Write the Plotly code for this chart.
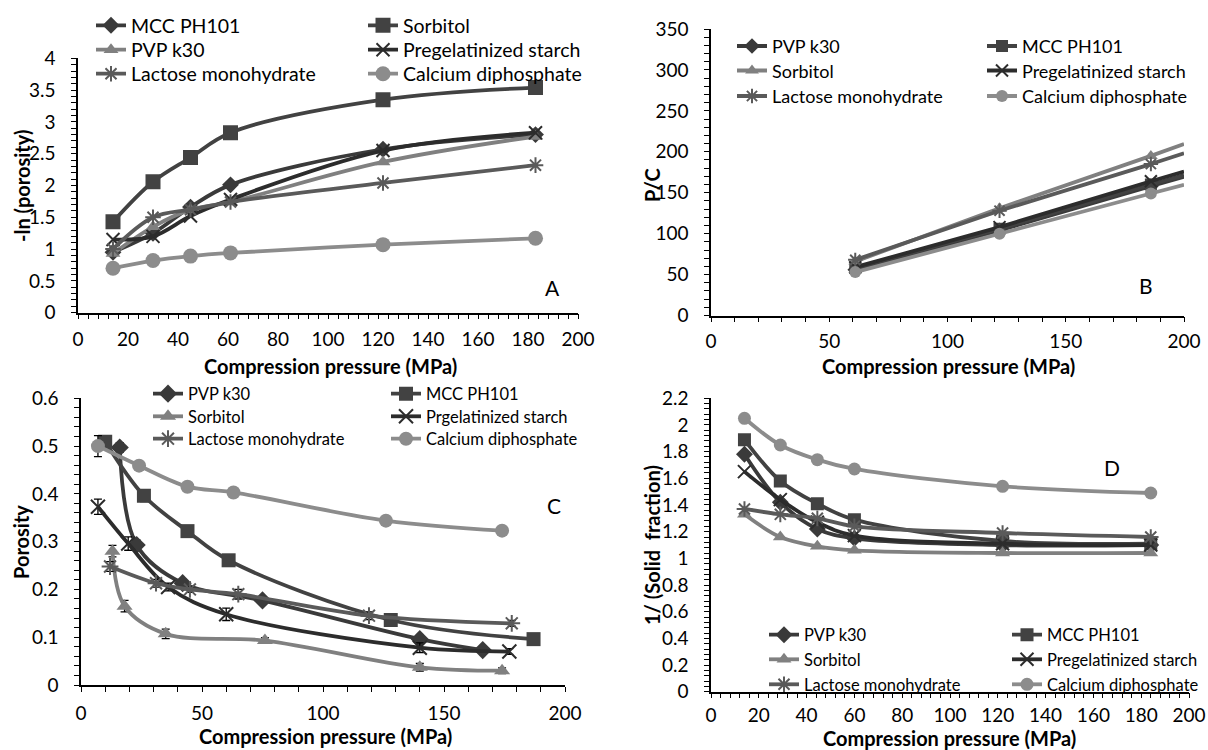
import numpy as np
import plotly.graph_objects as go

W, H = 1208, 750
FONT = "Lato"

# ---------------- data ----------------
# Panel A : -ln(porosity) vs compression pressure
A_X = [14, 30, 45, 61, 122, 183]
A_NAMES = ["MCC PH101", "Sorbitol", "PVP k30", "Pregelatinized starch",
           "Lactose monohydrate", "Calcium diphosphate"]
A_S1 = [0.95, 1.25, 1.66, 2.01, 2.57, 2.80]   # MCC PH101
A_S2 = [1.43, 2.06, 2.44, 2.83, 3.35, 3.54]   # Sorbitol
A_S3 = [0.93, 1.35, 1.62, 1.74, 2.37, 2.77]   # PVP k30
A_S4 = [1.15, 1.20, 1.52, 1.78, 2.55, 2.83]   # Pregelatinized starch
A_S5 = [1.00, 1.50, 1.62, 1.74, 2.04, 2.32]   # Lactose monohydrate
A_S6 = [0.70, 0.82, 0.89, 0.94, 1.07, 1.17]   # Calcium diphosphate

# Panel B : P/C vs compression pressure
B_X = [61, 122, 186]
B_NAMES = ["PVP k30", "MCC PH101", "Sorbitol", "Pregelatinized starch",
           "Lactose monohydrate", "Calcium diphosphate"]
B_S1 = [56, 104, 158]
B_S2 = [58, 106, 160]
B_S3 = [66, 131, 195]
B_S4 = [59, 108, 164]
B_S5 = [68, 128, 185]
B_S6 = [53, 100, 149]

# Panel C : porosity vs compression pressure
C_NAMES = ["PVP k30", "MCC PH101", "Sorbitol", "Prgelatinized starch",
           "Lactose monohydrate", "Calcium diphosphate"]
C_X1 = [16, 23, 42, 75, 140, 166]
C_S1 = [0.497, 0.293, 0.213, 0.177, 0.096, 0.073]
C_E1 = [0.010, 0.010, 0.008, 0.008, 0.008, 0.006]
C_X2 = [10, 26, 44, 61, 128, 187]
C_S2 = [0.509, 0.396, 0.322, 0.261, 0.136, 0.096]
C_E2 = [0.010, 0.012, 0.010, 0.008, 0.008, 0.006]
C_X3 = [13, 18, 35, 76, 140, 174]
C_S3 = [0.280, 0.165, 0.107, 0.093, 0.037, 0.030]
C_E3 = [0.012, 0.012, 0.010, 0.006, 0.008, 0.006]
C_X4 = [7, 19.5, 36, 60, 140, 177]
C_S4 = [0.373, 0.296, 0.205, 0.148, 0.078, 0.070]
C_E4 = [0.016, 0.014, 0.008, 0.013, 0.010, 0.006]
C_X5 = [12, 31, 45, 65, 119, 178]
C_S5 = [0.248, 0.213, 0.200, 0.190, 0.145, 0.129]
C_E5 = [0.010, 0.008, 0.006, 0.010, 0.008, 0.006]
C_X6 = [7, 24, 44, 63, 126, 174]
C_S6 = [0.500, 0.459, 0.415, 0.403, 0.344, 0.323]
C_E6 = [0.022, 0.006, 0.006, 0.006, 0.006, 0.008]

# Panel D : 1/(solid fraction) vs compression pressure
D_X = [14, 29, 44.5, 60, 122, 184]
D_NAMES = B_NAMES
D_S1 = [1.78, 1.42, 1.22, 1.15, 1.10, 1.10]
D_S2 = [1.89, 1.58, 1.41, 1.29, 1.13, 1.11]
D_S3 = [1.33, 1.16, 1.09, 1.06, 1.04, 1.04]
D_S4 = [1.65, 1.44, 1.27, 1.17, 1.11, 1.10]
D_S5 = [1.37, 1.33, 1.30, 1.24, 1.19, 1.16]
D_S6 = [2.05, 1.85, 1.74, 1.67, 1.54, 1.49]

# ---------------- styles ----------------
SYMBOLS = ["diamond", "square", "triangle-up", "x-thin", "asterisk", "circle"]
COLORS = ["#3a3a3a", "#424242", "#808080", "#2c2c2c", "#5a5a5a", "#8c8c8c"]
LW = 3.8


def px_x(v):
    return v / W


def px_y(v):
    return 1 - v / H


def legend_id(panel, slot):
    k = 6 * panel + slot + 1
    return "legend" if k == 1 else f"legend{k}"


def marker(i, size):
    sym = SYMBOLS[i]
    if sym in ("x-thin", "asterisk"):
        return dict(symbol=sym, size=size, color=COLORS[i],
                    line=dict(width=2, color=COLORS[i]))
    return dict(symbol=sym, size=size, color=COLORS[i], line=dict(width=0))


fig = go.Figure()


def add_series(panel, i, name, xs, ys, ax, msize, shape, err=None):
    xa = "x" if ax == 1 else f"x{ax}"
    ya = "y" if ax == 1 else f"y{ax}"
    tr = dict(x=xs, y=ys, name=name, mode="lines+markers",
              line=dict(color=COLORS[i], width=LW, shape=shape, smoothing=1.0),
              marker=marker(i, msize), xaxis=xa, yaxis=ya,
              legend=legend_id(panel, i))
    if err is not None:
        tr["error_y"] = dict(type="data", array=err, color="black",
                             thickness=1.3, width=4)
    fig.add_trace(go.Scatter(**tr))


A_ALL = [A_S1, A_S2, A_S3, A_S4, A_S5, A_S6]
A_ERR = [None, [0, 0, 0, 0, 0, 0.05], None, None, None, None]
for i, ys in enumerate(A_ALL):
    add_series(0, i, A_NAMES[i], A_X, ys, 1, 15 if i in (1, 5) else 13, "spline", A_ERR[i])

B_ALL = [B_S1, B_S2, B_S3, B_S4, B_S5, B_S6]
for i, ys in enumerate(B_ALL):
    add_series(1, i, B_NAMES[i], B_X, ys, 2, 12, "linear")
    slope, icpt = np.polyfit(B_X, ys, 1)
    fig.add_trace(go.Scatter(x=[B_X[-1], 200], y=[ys[-1], ys[-1] + slope * (200 - B_X[-1])],
                             mode="lines", line=dict(color=COLORS[i], width=LW),
                             showlegend=False, xaxis="x2", yaxis="y2", hoverinfo="skip"))

C_XS = [C_X1, C_X2, C_X3, C_X4, C_X5, C_X6]
C_ALL = [C_S1, C_S2, C_S3, C_S4, C_S5, C_S6]
C_ERR = [C_E1, C_E2, C_E3, C_E4, C_E5, C_E6]
for i in range(6):
    add_series(2, i, C_NAMES[i], C_XS[i], C_ALL[i], 3, 14, "spline", C_ERR[i])

D_ALL = [D_S1, D_S2, D_S3, D_S4, D_S5, D_S6]
for i, ys in enumerate(D_ALL):
    add_series(3, i, D_NAMES[i], D_X, ys, 4, 13, "spline")

# ---------------- axes ----------------
def axis_common(standoff):
    return dict(showline=True, linecolor="black", linewidth=1.5, mirror=False,
                showgrid=False, zeroline=False, ticks="outside", ticklen=5,
                tickwidth=1.3, tickcolor="black", automargin=False,
                tickfont=dict(family=FONT, size=19, color="black"),
                ticklabelstandoff=standoff)


PANELS = {
    1: dict(x0=78, x1=578, yb=312.7, yt=58.3, xr=[0, 200], xd=20, xm=4, yr=[0, 4], yd=0.5, ym=0.1, so=4),
    2: dict(x0=711, x1=1184, yb=315.5, yt=29, xr=[0, 200], xd=50, xm=10, yr=[0, 350], yd=50, ym=10, so=3),
    3: dict(x0=81, x1=565, yb=685, yt=398.3, xr=[0, 200], xd=50, xm=10, yr=[0, 0.6], yd=0.1, ym=0.02, so=5),
    4: dict(x0=711, x1=1189, yb=691.7, yt=398.3, xr=[0, 200], xd=20, xm=4, yr=[0, 2.2], yd=0.2, ym=0.04, so=1),
}

layout = dict(width=W, height=H,
              margin=dict(l=0, r=0, t=0, b=0, pad=0, autoexpand=False),
              paper_bgcolor="white", plot_bgcolor="white",
              font=dict(family=FONT, color="black"), showlegend=True)

for k, p in PANELS.items():
    xk = "xaxis" if k == 1 else f"xaxis{k}"
    yk = "yaxis" if k == 1 else f"yaxis{k}"
    ya = "y" if k == 1 else f"y{k}"
    xa = "x" if k == 1 else f"x{k}"
    xd = axis_common(p["so"])
    xd.update(domain=[px_x(p["x0"]), px_x(p["x1"])], range=p["xr"], dtick=p["xd"], tick0=0,
              anchor=ya,
              minor=dict(dtick=p["xm"], ticks="outside", ticklen=5, tickwidth=1.3, tickcolor="black"))
    yd = axis_common(12)
    yd.update(domain=[px_y(p["yb"]), px_y(p["yt"])], range=p["yr"], dtick=p["yd"], tick0=0,
              anchor=xa,
              minor=dict(dtick=p["ym"], ticks="outside", ticklen=5, tickwidth=1.3, tickcolor="black"))
    layout[xk] = xd
    layout[yk] = yd

# ---------------- legends (one box per entry, 2 columns x 3 rows) ----------------
LEG = [
    # (text_x col1, text_x col2, row centres, font size)
    (131, 403, (23.3, 47.7, 71.7), 19.5),
    (772, 1022, (44, 68.5, 94), 18),
    (188, 426, (391.7, 414.3, 436.7), 16.5),
    (804, 1047, (632.7, 657.3, 682.3), 16.5),
]
for pnl, (t1, t2, rows, fs) in enumerate(LEG):
    itemh = fs * 1.3 + 3
    for slot in range(6):
        tx = (t1, t2)[slot % 2]
        rc = rows[slot // 2]
        layout[legend_id(pnl, slot)] = dict(
            x=px_x(tx - 40), y=px_y(rc - itemh / 2 - 3), xanchor="left", yanchor="top",
            xref="paper", yref="paper", orientation="v", bgcolor="rgba(0,0,0,0)",
            borderwidth=0, font=dict(family=FONT, size=fs, color="black"),
            itemsizing="trace")

fig.update_layout(**layout)

# ---------------- axis titles & panel labels ----------------
def ann(text, x, y, size, bold=False, angle=0):
    fig.add_annotation(text=f"<b>{text}</b>" if bold else text, x=px_x(x), y=px_y(y),
                       xref="paper", yref="paper", showarrow=False, textangle=angle,
                       xanchor="center", yanchor="middle",
                       font=dict(family=FONT, size=size, color="black"))


XTITLE = "Compression pressure (MPa)"
ann(XTITLE, 330, 366, 20, True)
ann(XTITLE, 948, 366, 20, True)
ann(XTITLE, 325, 736, 20, True)
ann(XTITLE, 949, 738, 20, True)
ann("-ln (porosity)", 22, 186, 20, True, -90)
ann("P/C", 652, 185, 20, True, -90)
ann("Porosity", 21, 542, 20, True, -90)
ann("1/ (Solid  fraction)", 652, 545, 20, True, -90)
ann("A", 552, 287, 21)
ann("B", 1146, 285, 21)
ann("C", 554, 505, 21)
ann("D", 1112, 467, 21)

fig.write_html("out.html")
